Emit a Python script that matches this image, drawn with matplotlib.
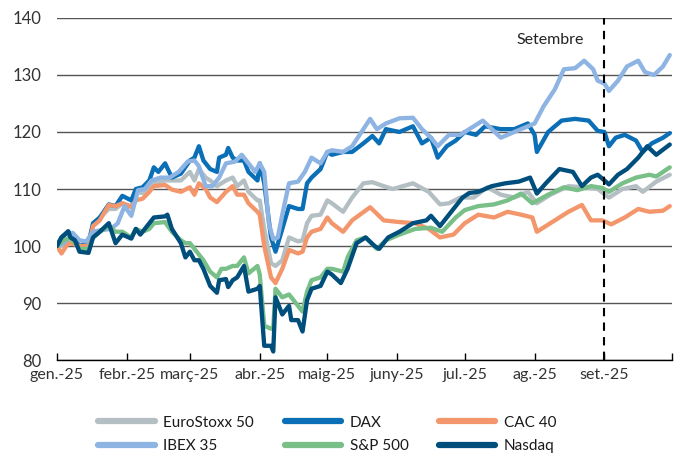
import matplotlib
matplotlib.use("Agg")
import matplotlib.pyplot as plt
import pandas as pd
import numpy as np

plt.rcParams['font.family'] = ['Lato', 'DejaVu Sans']

# days counted from 1 Jan 2025, index = 100 at start of year
eurostoxx_days = [0, 2, 5, 8, 10, 14, 16, 19, 23, 26, 29, 33, 35, 38, 41, 43, 48, 51, 55, 59, 61, 63, 66, 68, 71, 75, 78, 80, 83, 85, 89, 90, 92, 95, 97, 100, 103, 107, 109, 111, 113, 117, 120,
                  122, 127, 131, 136, 140, 145, 149, 158, 165, 170, 174, 179, 185, 191, 197, 203, 209, 213, 219, 227, 234, 240, 245, 251, 257, 260, 266, 272]
eurostoxx_vals = [100, 100, 101, 101, 100, 100.5, 103.5, 105, 106.5, 106.5, 107.5, 107, 109.5, 109.3, 110.5, 111, 111.5, 111.5, 111.5, 113, 111.5, 113.5, 112, 111.5, 110.5, 111.5, 112, 110.5, 111.5, 109.5, 108, 108, 103, 97, 96.5, 97.5, 101.5, 100.8, 101, 104, 105.3, 105.5, 108,
                  107.5, 106, 108.5, 111, 111.2, 110.5, 110, 111, 109.5, 107.3, 107.5, 108.5, 108.5, 110.3, 109, 108.5, 109.5, 107.5, 109, 110.5, 110.3, 110, 108.5, 110, 110.5, 109.5, 111.3, 112.5]

dax_days = [0, 2, 5, 8, 10, 14, 16, 19, 23, 26, 29, 33, 35, 38, 41, 43, 45, 48, 51, 55, 59, 61, 63, 65, 68, 71, 72, 75, 76, 78, 80, 83, 85, 89, 90, 92, 95, 97, 100, 103, 107, 109, 111, 113, 117, 120,
            122, 127, 131, 136, 140, 143, 146, 152, 158, 162, 166, 169, 173, 177, 181, 186, 190, 197, 203, 209, 212, 213, 218, 224, 230, 236, 240, 243, 245, 248, 252, 257, 260, 264, 269, 272]
dax_vals = [100, 101.5, 102.5, 101, 100, 100.5, 104, 105, 107.3, 107, 108.8, 108, 110, 110.3, 111.5, 113.8, 113, 114.5, 112, 112.7, 115, 115.5, 117.5, 115, 113.5, 113, 115.5, 116, 117.2, 115.5, 115, 115, 113, 111.5, 114.5, 111, 101.5, 99, 103, 107, 106.5, 106.5, 111, 112, 113.5, 116.5,
            116, 116.5, 116.5, 118, 119.3, 118, 120.5, 120, 121, 118, 119, 115.5, 117.5, 118.5, 120, 119.5, 121, 120.5, 120.5, 121.5, 119.5, 116.5, 120, 122, 122.3, 122, 120.2, 120, 117.5, 119, 119.5, 118.5, 116.5, 118, 119, 119.8]

cac_days = [0, 2, 5, 8, 10, 14, 16, 19, 23, 26, 29, 33, 35, 38, 41, 43, 48, 51, 55, 59, 61, 63, 66, 68, 71, 75, 78, 80, 83, 85, 89, 90, 92, 95, 97, 100, 103, 107, 109, 111, 113, 117, 120,
            122, 127, 131, 139, 145, 152, 159, 165, 170, 176, 181, 187, 194, 200, 206, 211, 213, 219, 227, 233, 237, 242, 246, 252, 258, 263, 269, 272]
cac_vals = [100, 98.7, 100.5, 100.3, 100, 100, 103.5, 104.5, 107.2, 107, 107.5, 106.8, 108, 108.3, 109.5, 110.5, 110.7, 109.9, 109.5, 110.3, 109, 111, 110, 108.5, 107.7, 109.5, 110.5, 109, 109, 107.5, 106, 105.5, 100, 94.5, 93.5, 96, 99.3, 98.7, 99, 101.5, 102.5, 103, 105,
            104, 102.5, 104.5, 106.8, 104.5, 104.2, 104, 103, 101.5, 102, 104, 105.5, 105, 106, 105.5, 105, 102.5, 104, 106, 107.2, 104.5, 104.5, 103.8, 105, 106.5, 106, 106.2, 107]

ibex_days = [0, 3, 7, 10, 13, 16, 20, 24, 27, 30, 33, 36, 39, 42, 46, 50, 54, 58, 61, 63, 66, 69, 72, 75, 79, 82, 85, 88, 90, 92, 94, 96, 98, 100, 103, 107, 110, 113, 117, 120,
             122, 127, 131, 136, 139, 142, 146, 152, 158, 162, 166, 169, 174, 179, 183, 189, 197, 203, 212, 216, 221, 225, 230, 234, 238, 240, 243, 245, 249, 253, 258, 261, 265, 269, 272]
ibex_vals = [100, 100.5, 102.3, 101, 100.8, 102.5, 102.8, 103, 104, 107, 105.3, 109.8, 110, 111.5, 112, 112, 113, 114.8, 115, 114, 110.5, 110.5, 112, 114.5, 114.8, 116, 114.5, 113, 114.5, 113, 104, 101.2, 101.5, 105.5, 111, 111.3, 113, 115.5, 114.5, 116.5,
             116.8, 116.5, 117.5, 120.5, 122.3, 120.5, 121.5, 122.4, 122.5, 120.5, 119, 117.5, 119.5, 119.5, 120.5, 122, 119, 120, 121.5, 124.5, 127.5, 131, 131.2, 132.5, 131, 129, 128.5, 127.2, 129, 131.5, 132.5, 130.5, 130, 131.5, 133.5]

sp500_days = [0, 3, 6, 8, 10, 14, 16, 19, 23, 26, 29, 33, 35, 38, 41, 43, 48, 51, 55, 57, 59, 61, 63, 65, 68, 71, 73, 75, 78, 80, 83, 85, 89, 90, 92, 95, 96, 97, 100, 103, 107, 109, 111, 113, 117, 120,
              122, 127, 129, 133, 137, 142, 146, 152, 159, 166, 171, 177, 181, 187, 194, 200, 206, 211, 218, 225, 231, 237, 242, 245, 251, 257, 263, 266, 272]
sp500_vals = [100, 101, 101.5, 100.5, 99.5, 99.5, 101.5, 102.5, 103.5, 102.5, 102.5, 101.5, 103, 102.5, 103, 104, 104.2, 102.5, 101, 100.5, 100.5, 99.5, 98.5, 97.5, 95.5, 94.5, 96, 96, 96.5, 96.5, 98, 95.2, 96.5, 95, 86, 85.5, 85.5, 92.5, 91, 91.5, 89.5, 88.5, 92, 94, 94.5, 96,
              96, 95.5, 98, 101, 101.5, 99.5, 101, 102, 103, 103.2, 102.5, 105, 106.3, 107, 107.3, 108, 109.2, 107.5, 109, 110.3, 109.8, 110.5, 110.2, 109.5, 111, 112, 112.5, 112.2, 113.8]

nasdaq_days = [0, 2, 5, 6, 8, 10, 14, 16, 19, 23, 26, 29, 33, 35, 37, 40, 43, 48, 49, 51, 55, 57, 59, 61, 63, 65, 68, 71, 72, 75, 76, 78, 80, 83, 85, 89, 90, 92, 95, 96, 97, 100, 103, 104, 107, 109, 111, 113, 117, 120,
               122, 126, 129, 133, 137, 141, 143, 147, 152, 158, 164, 166, 170, 175, 180, 183, 187, 193, 199, 205, 210, 213, 217, 223, 229, 233, 237, 240, 243, 245, 249, 253, 258, 262, 266, 272]
nasdaq_vals = [100, 101.5, 102.6, 101.5, 101, 99, 98.8, 101.5, 102.5, 104, 100.5, 102, 101.3, 103, 102, 103.5, 105, 105.2, 105.5, 103, 100.5, 98, 99, 97.5, 97.5, 96, 93, 91.8, 94, 94.2, 92.8, 94, 94.5, 96.5, 92, 92.5, 93, 82.5, 82.5, 81.5, 91, 88, 89.5, 87, 87, 85, 90.5, 92.5, 93, 95.5,
               95, 93.5, 96, 100.5, 101.5, 100, 99.5, 101.5, 102.5, 104, 104.5, 105.3, 103.5, 106, 108.5, 109.3, 109.5, 110.5, 111, 111.3, 112, 109.2, 111, 113.5, 113, 110.5, 112, 112.5, 111.5, 110.8, 112.5, 113.5, 115.5, 117.5, 116, 117.8]

month_labels = ['gen.-25', 'febr.-25', 'març-25', 'abr.-25', 'maig-25', 'juny-25', 'jul.-25', 'ag.-25', 'set.-25', '']

start = pd.Timestamp('2025-01-01')


def to_dates(days):
    return start + pd.to_timedelta(days, unit='D')


series = [
    ('EuroStoxx 50', eurostoxx_days, eurostoxx_vals, '#b4bfc4'),
    ('DAX', dax_days, dax_vals, '#0a6fb6'),
    ('CAC 40', cac_days, cac_vals, '#f4966c'),
    ('IBEX 35', ibex_days, ibex_vals, '#8db4e2'),
    ('S&P 500', sp500_days, sp500_vals, '#78bf88'),
    ('Nasdaq', nasdaq_days, nasdaq_vals, '#004e7c'),
]

fig = plt.figure(figsize=(6.75, 4.54), dpi=100)
ax = fig.add_axes([0.0844, 0.207, 0.9112, 0.7534])

lines = {}
for name, d, v, c in series:
    lines[name], = ax.plot(to_dates(d), v, color=c, lw=3.1, label=name,
                           solid_joinstyle='round', solid_capstyle='round')

sept = pd.Timestamp('2025-09-01')
ax.axvline(sept, color='black', lw=1.5, ls=(0, (4, 3)), zorder=5)
ax.text(pd.Timestamp('2025-08-23'), 136.2, 'Setembre', ha='right', va='center', fontsize=11.5, color='#222222')

ax.set_ylim(80, 140)
ax.set_xlim(start, pd.Timestamp('2025-10-01'))
ax.set_yticks(range(80, 141, 10))
ax.yaxis.grid(True, color='#555555', lw=1)
ax.set_axisbelow(True)

ticks = pd.date_range('2025-01-01', '2025-10-01', freq='MS')
ax.set_xticks(ticks)
ax.set_xticklabels(month_labels)
ax.tick_params(axis='x', direction='in', length=5, width=1, pad=6, labelsize=11.5, labelcolor='#333333')
ax.tick_params(axis='y', length=0, pad=11, labelsize=12, labelcolor='#333333')

for s in ['top', 'right', 'left']:
    ax.spines[s].set_visible(False)
ax.spines['bottom'].set_color('black')
ax.spines['bottom'].set_linewidth(1)

# legend filled row by row: 3 columns x 2 rows
order = ['EuroStoxx 50', 'IBEX 35', 'DAX', 'S&P 500', 'CAC 40', 'Nasdaq']
leg = fig.legend([lines[n] for n in order], order, loc='lower center', bbox_to_anchor=(0.485, -0.028),
                 ncol=3, frameon=False, fontsize=11, handlelength=3.7, handletextpad=0.55,
                 columnspacing=2.0, labelspacing=0.6)
for line in leg.get_lines():
    line.set_linewidth(4.5)
    line.set_solid_capstyle('round')
for t in leg.get_texts():
    t.set_color('#1a1a1a')

fig.savefig('out.png', dpi=100)
